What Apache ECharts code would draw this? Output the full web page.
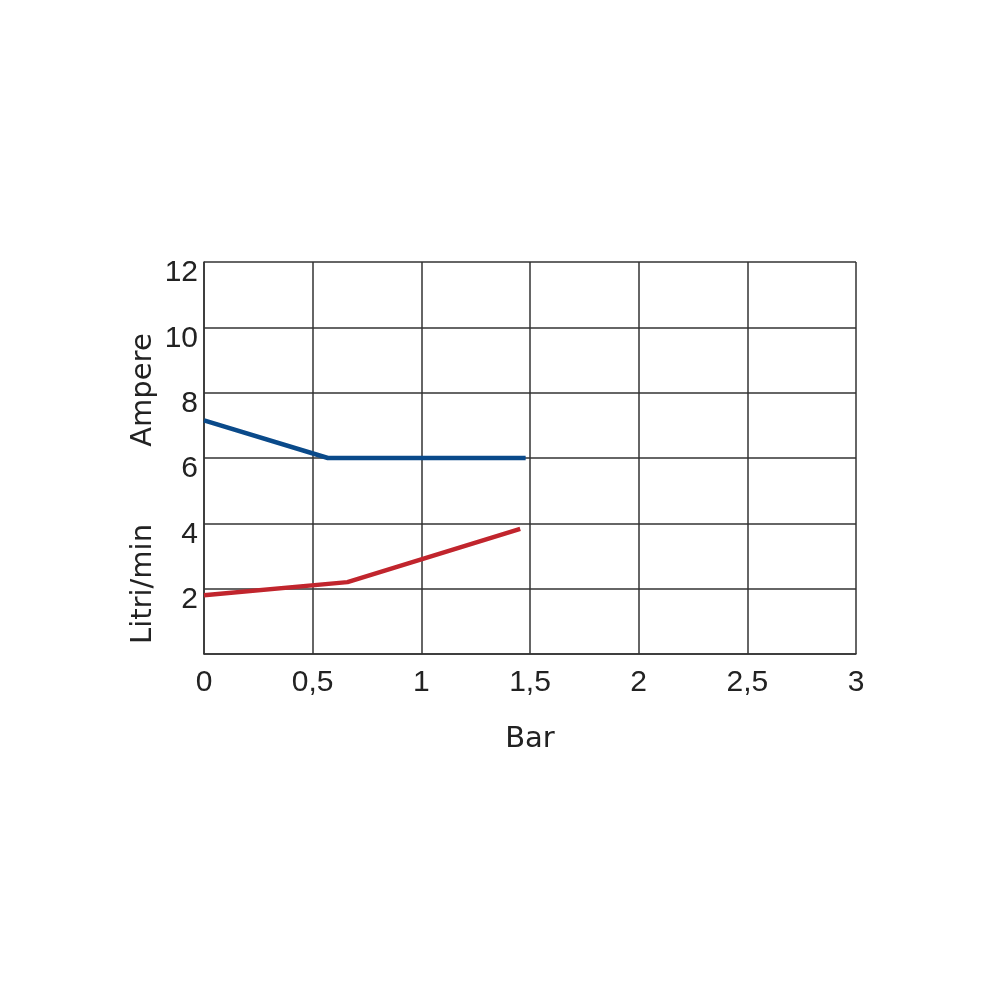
<!DOCTYPE html>
<html>
<head>
<meta charset="utf-8">
<script src="https://cdn.jsdelivr.net/npm/echarts@6/dist/echarts.min.js"></script>
<style>
html,body{margin:0;padding:0;background:#fff;}
#chart{width:1000px;height:1000px;}
</style>
</head>
<body>
<div id="chart"></div>
<script>
// Data (x in bar, y values)
const xTickLabels = ["0", "0,5", "1", "1,5", "2", "2,5", "3"];
const yTickLabels = ["", "2", "4", "6", "8", "10", "12"];
const ampereX = [0, 0.57, 1.48];
const ampereY = [7.15, 6.0, 6.0];
const litriX = [0, 0.66, 1.455];
const litriY = [1.8, 2.2, 3.83];

const NUMFONT = 'Liberation Sans';
const NAMEFONT = 'DejaVu Sans';
const chart = echarts.init(document.getElementById('chart'));
const pairs = (xs, ys) => xs.map((x, i) => [x, ys[i]]);

chart.setOption({
  backgroundColor: '#ffffff',
  animation: false,
  grid: { left: 204, right: 144, top: 262, bottom: 346, containLabel: false },
  xAxis: {
    type: 'value', min: 0, max: 3, interval: 0.5,
    name: 'Bar', nameLocation: 'middle', nameGap: 71,
    nameTextStyle: { fontFamily: NAMEFONT, fontSize: 29, color: '#222' },
    axisLine: { show: true, lineStyle: { color: '#333', width: 1.5 } },
    axisTick: { show: false },
    axisLabel: {
      margin: 14, fontFamily: NUMFONT, fontSize: 30, color: '#222',
      formatter: (v) => xTickLabels[Math.round(v / 0.5)]
    },
    splitLine: { show: true, lineStyle: { color: '#333', width: 1.5 } }
  },
  yAxis: {
    type: 'value', min: 0, max: 12, interval: 2,
    axisLine: { show: true, lineStyle: { color: '#333', width: 1.5 } },
    axisTick: { show: false },
    axisLabel: {
      margin: 6, color: '#222',
      formatter: (v) => '{a|' + yTickLabels[Math.round(v / 2)] + '}',
      rich: { a: { fontFamily: NUMFONT, fontSize: 30, color: '#222', padding: [22, 0, 0, 0] } }
    },
    splitLine: { show: true, lineStyle: { color: '#333', width: 1.5 } }
  },
  graphic: [
    { type: 'text', x: 143, y: 390, rotation: Math.PI / 2,
      style: { text: 'Ampere', fontFamily: NAMEFONT, fontSize: 29, fill: '#222', textAlign: 'center', textVerticalAlign: 'middle' } },
    { type: 'text', x: 143, y: 584, rotation: Math.PI / 2,
      style: { text: 'Litri/min', fontFamily: NAMEFONT, fontSize: 29, fill: '#222', textAlign: 'center', textVerticalAlign: 'middle' } }
  ],
  series: [
    { type: 'line', data: pairs(ampereX, ampereY), showSymbol: false, symbol: 'none',
      lineStyle: { color: '#0a4a8a', width: 4.5 }, itemStyle: { color: '#0a4a8a' } },
    { type: 'line', data: pairs(litriX, litriY), showSymbol: false, symbol: 'none',
      lineStyle: { color: '#c1252d', width: 4.5 }, itemStyle: { color: '#c1252d' } }
  ]
});
</script>
</body>
</html>
